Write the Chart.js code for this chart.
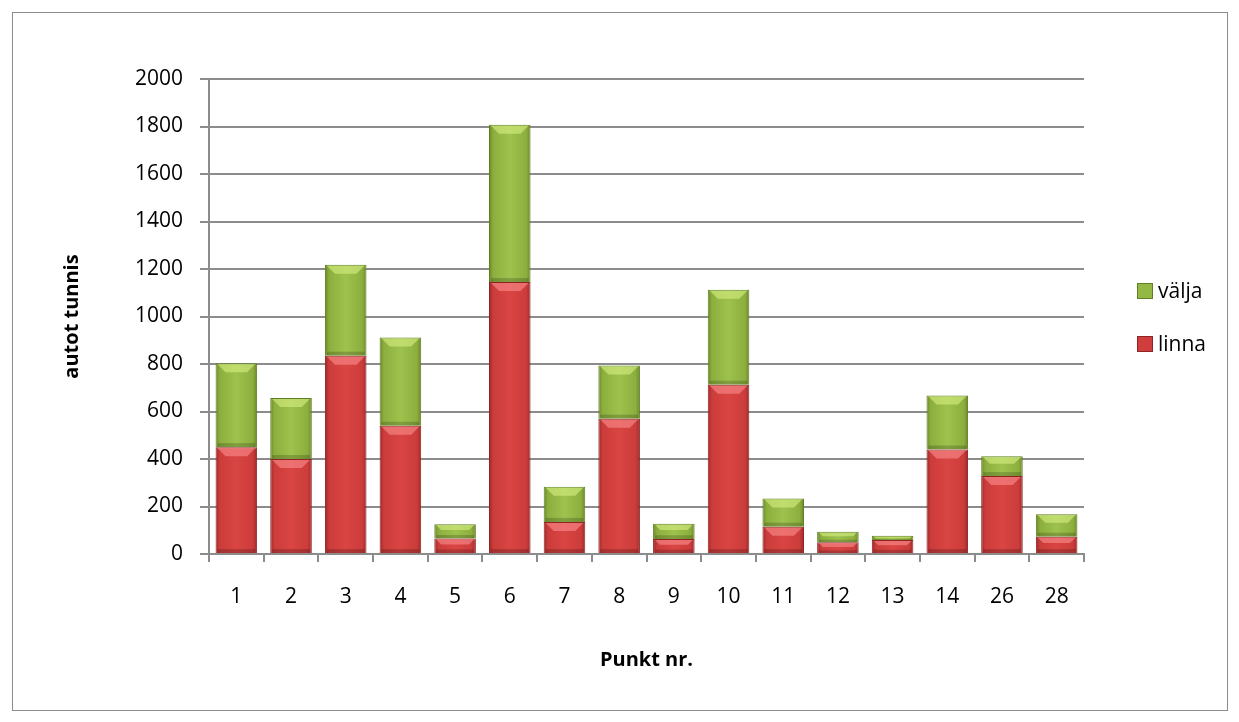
<!DOCTYPE html>
<html>
<head>
<meta charset="utf-8">
<script src="https://cdn.jsdelivr.net/npm/chart.js@4/dist/chart.umd.min.js"></script>
<style>
  html, body { margin: 0; padding: 0; background: #fff; }
  #wrap { position: relative; width: 1239px; height: 722px; }
  #frame { position: absolute; left: 12px; top: 12px; width: 1214px; height: 697px; border: 1px solid #8c8c8c; }
  canvas { position: absolute; left: 0; top: 0; }
  .legend { position: absolute; left: 1137px; height: 26px; line-height: 26px; font-family: "Open Sans", sans-serif; font-size: 21px; color: #000; white-space: nowrap; }
  .legend span.box { display: inline-block; width: 14px; height: 14px; margin-right: 5px; vertical-align: -1px; }
</style>
</head>
<body>
<div id="wrap">
  <div id="frame"></div>
  <canvas id="chart" width="1239" height="722"></canvas>
  <div class="legend" style="top:277px"><span class="box" style="background:#93b944;border:1px solid #5f7f22"></span>välja</div>
  <div class="legend" style="top:330px"><span class="box" style="background:#cf3d3c;border:1px solid #8e2424"></span>linna</div>
</div>
<script>
// ===== DATA =====
const punktid = ['1', '2', '3', '4', '5', '6', '7', '8', '9', '10', '11', '12', '13', '14', '26', '28'];
const linna = [450, 400, 835, 540, 65, 1145, 135, 570, 63, 713, 115, 49, 59, 440, 328, 73];
const valja = [353, 257, 383, 372, 60, 662, 148, 224, 64, 400, 119, 45, 18, 227, 84, 94];
const yTicks = [0, 200, 400, 600, 800, 1000, 1200, 1400, 1600, 1800, 2000];

const FONT = '"Open Sans", sans-serif';
const BAR_PCT = 0.76;
const BEVEL_TOP = ['rgba(255,150,150,0.55)', 'rgba(215,240,130,0.6)'];

// horizontal gradient for the bevel look
function barGradient(ctx, light, mid, dark) {
  const chart = ctx.chart;
  const xs = chart.scales && chart.scales.x;
  if (!chart.chartArea || !xs || ctx.dataIndex === undefined) return mid;
  const cx = xs.getPixelForValue(ctx.dataIndex);
  const w = (chart.chartArea.width / punktid.length) * BAR_PCT;
  if (!isFinite(cx) || !isFinite(w)) return mid;
  const g = chart.ctx.createLinearGradient(cx - w / 2, 0, cx + w / 2, 0);
  g.addColorStop(0, dark);
  g.addColorStop(0.1, mid);
  g.addColorStop(0.5, light);
  g.addColorStop(0.9, mid);
  g.addColorStop(1, dark);
  return g;
}

// light strip on top of each segment, dark line at its bottom
const bevel = {
  id: 'bevel',
  afterDatasetsDraw(chart) {
    const c = chart.ctx;
    chart.data.datasets.forEach((ds, di) => {
      chart.getDatasetMeta(di).data.forEach(bar => {
        const p = bar.getProps(['x', 'y', 'base', 'width'], true);
        const h = p.base - p.y;
        const strip = Math.min(8, h / 3);
        const l = p.x - p.width / 2 + 2, r = p.x + p.width / 2 - 2;
        c.save();
        c.fillStyle = BEVEL_TOP[di];
        c.beginPath();
        c.moveTo(l, p.y + 1);
        c.lineTo(r, p.y + 1);
        c.lineTo(r - strip, p.y + 1 + strip);
        c.lineTo(l + strip, p.y + 1 + strip);
        c.closePath();
        c.fill();
        c.fillStyle = 'rgba(0,0,0,0.18)';
        c.fillRect(l, p.base - Math.min(4, h / 4), r - l, Math.min(4, h / 4));
        c.restore();
      });
    });
  }
};

new Chart(document.getElementById('chart'), {
  type: 'bar',
  data: {
    labels: punktid,
    datasets: [
      {
        label: 'linna',
        data: linna,
        backgroundColor: ctx => barGradient(ctx, '#d94543', '#cb3c3b', '#9c2a2a'),
        borderColor: '#8e2424',
        borderWidth: 1,
        categoryPercentage: 1,
        barPercentage: BAR_PCT
      },
      {
        label: 'välja',
        data: valja,
        backgroundColor: ctx => barGradient(ctx, '#9ec24d', '#8cae3e', '#6a8829'),
        borderColor: '#5f7f22',
        borderWidth: 1,
        categoryPercentage: 1,
        barPercentage: BAR_PCT
      }
    ]
  },
  options: {
    responsive: false,
    animation: false,
    layout: { padding: { left: 60, right: 155, top: 79, bottom: 50 } },
    plugins: {
      legend: { display: false },
      tooltip: { enabled: false }
    },
    scales: {
      x: {
        stacked: true,
        grid: { display: true, drawOnChartArea: false, drawTicks: true, tickLength: 8, offset: true, color: '#8c8c8c', lineWidth: 2 },
        border: { display: true, color: '#8c8c8c', width: 2 },
        ticks: { color: '#000', font: { family: FONT, size: 21 }, padding: 22 },
        title: { display: true, text: 'Punkt nr.', color: '#000', font: { family: FONT, size: 20, weight: 'bold' }, padding: { top: 20, bottom: 0 } },
        afterFit: s => { s.height = 118; }
      },
      y: {
        stacked: true,
        min: 0,
        max: 2000,
        afterBuildTicks: s => { s.ticks = yTicks.map(v => ({ value: v })); },
        grid: { color: '#8c8c8c', lineWidth: 2, tickLength: 9 },
        border: { display: true, color: '#8c8c8c', width: 2 },
        ticks: { color: '#000', font: { family: FONT, size: 21 }, padding: 17, callback: v => String(v) },
        title: { display: true, text: 'autot tunnis', color: '#000', font: { family: FONT, size: 20, weight: 'bold' }, padding: { top: 0, bottom: 0 } },
        afterFit: s => { s.width = 149; }
      }
    }
  },
  plugins: [bevel]
});
</script>
</body>
</html>
